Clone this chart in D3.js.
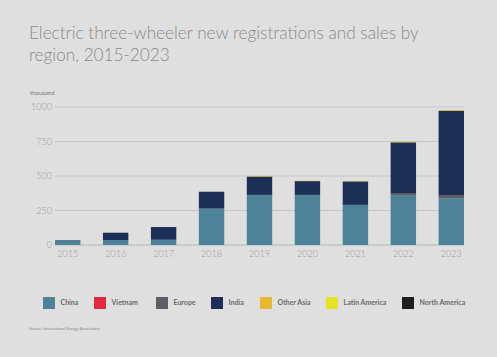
<!DOCTYPE html>
<html><head><meta charset="utf-8">
<script src="https://cdn.jsdelivr.net/npm/d3@7"></script>
<style>
html,body{margin:0;padding:0;background:#e0dfdf;}
svg{display:block;}
</style></head>
<body>
<svg id="chart" width="497" height="357"></svg>
<script>
const years = ["2015","2016","2017","2018","2019","2020","2021","2022","2023"];
const seriesNames = ["China","Vietnam","Europe","India","Other Asia","Latin America","North America"];
const china        = [33, 36, 38, 263, 362, 362, 290, 357, 338];
const vietnam      = [0, 0, 0, 0, 0, 0, 0, 0, 0];
const europe       = [0, 0, 0, 1, 1, 1, 1, 15, 24];
const india        = [3, 53, 92, 122, 133, 100, 170, 372, 611];
const otherAsia    = [0, 0, 0, 1, 4, 3, 3, 5, 5];
const latinAmerica = [0, 0, 0, 0, 0, 0, 0, 0, 0];
const northAmerica = [0, 0, 0, 0, 0, 0, 0, 0, 0];
const yTicks = [0, 250, 500, 750, 1000];
const colors = ["#4d8399","#e0283f","#5c5e63","#1c3057","#e8b92e","#e4e424","#1e1d1f"];

const seriesValues = [china, vietnam, europe, india, otherAsia, latinAmerica, northAmerica];
const rows = years.map((y,i)=>{ const r={year:y}; seriesNames.forEach((s,j)=>r[s]=seriesValues[j][i]); return r; });

const svg = d3.select("#chart");
const font = "Lato, 'Open Sans', sans-serif";

svg.append("text").attr("x",29).attr("y",39).attr("font-family",font).attr("font-weight",300)
  .attr("font-size",17.2).attr("fill","#8a8a8a").text("Electric three-wheeler new registrations and sales by");
svg.append("text").attr("x",29).attr("y",61).attr("font-family",font).attr("font-weight",300)
  .attr("font-size",17.2).attr("fill","#8a8a8a").text("region, 2015-2023");
svg.append("text").attr("x",30).attr("y",95).attr("font-family",font)
  .attr("font-size",6).attr("fill","#777").text("thousand");

const x = d3.scaleBand().domain(years).range([55,464]).paddingInner(0.47).paddingOuter(0);
const y = d3.scaleLinear().domain([0,1000]).range([245,107]);

// gridlines
svg.append("g").selectAll("line").data(yTicks).join("line")
  .attr("x1",55).attr("x2",464).attr("y1",d=>y(d)).attr("y2",d=>y(d))
  .attr("stroke",d=>d===0?"#b5b5b5":"#c6c6c6").attr("stroke-width",1);

const yAxis = svg.append("g").attr("transform","translate(52,0)")
  .call(d3.axisLeft(y).tickValues(yTicks).tickFormat(d3.format("d")).tickSize(0).tickPadding(0));
yAxis.select(".domain").remove();
yAxis.selectAll("text").attr("font-family",font).attr("font-weight",300).attr("font-size",9).attr("fill","#9a9a9a");

const xAxis = svg.append("g").attr("transform","translate(0,251)")
  .call(d3.axisBottom(x).tickSize(0).tickPadding(0));
xAxis.select(".domain").remove();
xAxis.selectAll("text").attr("font-family",font).attr("font-weight",300).attr("font-size",9).attr("fill","#9a9a9a").attr("dy","0.71em");

const stack = d3.stack().keys(seriesNames)(rows);
svg.append("g").selectAll("g").data(stack).join("g").attr("fill",(d,i)=>colors[i])
  .selectAll("rect").data(d=>d).join("rect")
  .attr("x",d=>x(d.data.year)).attr("width",x.bandwidth())
  .attr("y",d=>y(d[1])).attr("height",d=>Math.max(0,y(d[0])-y(d[1])));

// legend
const legendX = [43, 94, 156, 211, 260, 326, 402];
const lg = svg.append("g").selectAll("g").data(seriesNames).join("g")
  .attr("transform",(d,i)=>`translate(${legendX[i]},297)`);
lg.append("rect").attr("width",12).attr("height",12).attr("fill",(d,i)=>colors[i]);
lg.append("text").attr("x",17.5).attr("y",6).attr("dy","0.35em").attr("font-family",font)
  .attr("font-weight",700).attr("font-size",7).attr("fill","#6a6a6a").text(d=>d);

svg.append("text").attr("x",29).attr("y",330).attr("font-family",font)
  .attr("font-size",4).attr("fill","#888").text("Source: International Energy Association");
</script>
</body></html>
